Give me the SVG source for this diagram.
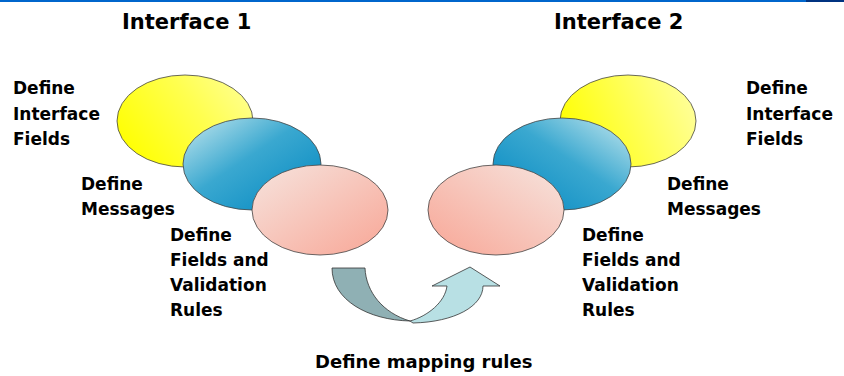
<svg xmlns="http://www.w3.org/2000/svg" width="844" height="376" viewBox="0 0 844 376">
<defs>
<linearGradient id="yL" x1="0" y1="0.7" x2="1" y2="0.2"><stop offset="0" stop-color="#ffff00"/><stop offset="0.6" stop-color="#ffff50"/><stop offset="1" stop-color="#ffff90"/></linearGradient>
<linearGradient id="yR" x1="0" y1="0.6" x2="1" y2="0.3"><stop offset="0" stop-color="#ffff00"/><stop offset="1" stop-color="#ffff9a"/></linearGradient>
<linearGradient id="bL" x1="0" y1="0" x2="1" y2="1"><stop offset="0" stop-color="#c6e8ee"/><stop offset="0.45" stop-color="#3aa8d0"/><stop offset="1" stop-color="#0086c0"/></linearGradient>
<linearGradient id="bR" x1="1" y1="0" x2="0" y2="1"><stop offset="0" stop-color="#c6e8ee"/><stop offset="0.45" stop-color="#3aa8d0"/><stop offset="1" stop-color="#0086c0"/></linearGradient>
<linearGradient id="pL" x1="0" y1="0" x2="1" y2="1"><stop offset="0" stop-color="#f6e4de"/><stop offset="1" stop-color="#f8a696"/></linearGradient>
<linearGradient id="pR" x1="1" y1="0" x2="0" y2="1"><stop offset="0" stop-color="#f6e4de"/><stop offset="1" stop-color="#f8a696"/></linearGradient>
</defs>
<style>
.e{stroke:#444;stroke-width:0.8}
.t{font-family:"DejaVu Sans",Verdana,sans-serif;font-weight:bold;font-size:17px;fill:#000}
.h{font-family:"DejaVu Sans",Verdana,sans-serif;font-weight:bold;font-size:21px;fill:#000}
.a{stroke:#333;stroke-width:0.8}
</style>
<rect x="0" y="0" width="806" height="2" fill="#0066cc"/>
<rect x="806" y="0" width="38" height="2" fill="#003380"/>
<text class="h" x="122" y="29">Interface 1</text>
<text class="h" x="554" y="29">Interface 2</text>
<g id="left-interface-fields">
<ellipse class="e" cx="185" cy="121" rx="68" ry="46" fill="url(#yL)"/>
<text class="t"><tspan x="13" y="94">Define</tspan><tspan x="13" y="120">Interface</tspan><tspan x="13" y="145">Fields</tspan></text>
</g>
<g id="left-messages">
<ellipse class="e" cx="252" cy="164" rx="69" ry="46" fill="url(#bL)"/>
<text class="t"><tspan x="81" y="190">Define</tspan><tspan x="81" y="215">Messages</tspan></text>
</g>
<g id="left-fields-validation">
<ellipse class="e" cx="320" cy="210" rx="68" ry="45" fill="url(#pL)"/>
<text class="t"><tspan x="170" y="241">Define</tspan><tspan x="170" y="266">Fields and</tspan><tspan x="170" y="291">Validation</tspan><tspan x="170" y="316">Rules</tspan></text>
</g>
<g id="right-interface-fields">
<ellipse class="e" cx="628" cy="121" rx="68" ry="46" fill="url(#yR)"/>
<text class="t"><tspan x="746" y="94">Define</tspan><tspan x="746" y="120">Interface</tspan><tspan x="746" y="145">Fields</tspan></text>
</g>
<g id="right-messages">
<ellipse class="e" cx="562" cy="164" rx="69" ry="46" fill="url(#bR)"/>
<text class="t"><tspan x="667" y="190">Define</tspan><tspan x="667" y="215">Messages</tspan></text>
</g>
<g id="right-fields-validation">
<ellipse class="e" cx="496" cy="210" rx="68" ry="45" fill="url(#pR)"/>
<text class="t"><tspan x="582" y="241">Define</tspan><tspan x="582" y="266">Fields and</tspan><tspan x="582" y="291">Validation</tspan><tspan x="582" y="316">Rules</tspan></text>
</g>
<g id="connectors">
<path class="a" fill="#b8e0e4" d="M410,321 C428,316 445,302 447,286 L432,286 L470,267 L500,286 L483,286 C483,306 455,322 413,323 Z"/>
<path class="a" fill="#8fb0b4" d="M332,268 L365,268 C366,292 383,313 410,321 C368,320 332,300 332,268 Z"/>
<text class="t" x="315" y="368" style="font-size:18px">Define mapping rules</text>
</g>
</svg>
